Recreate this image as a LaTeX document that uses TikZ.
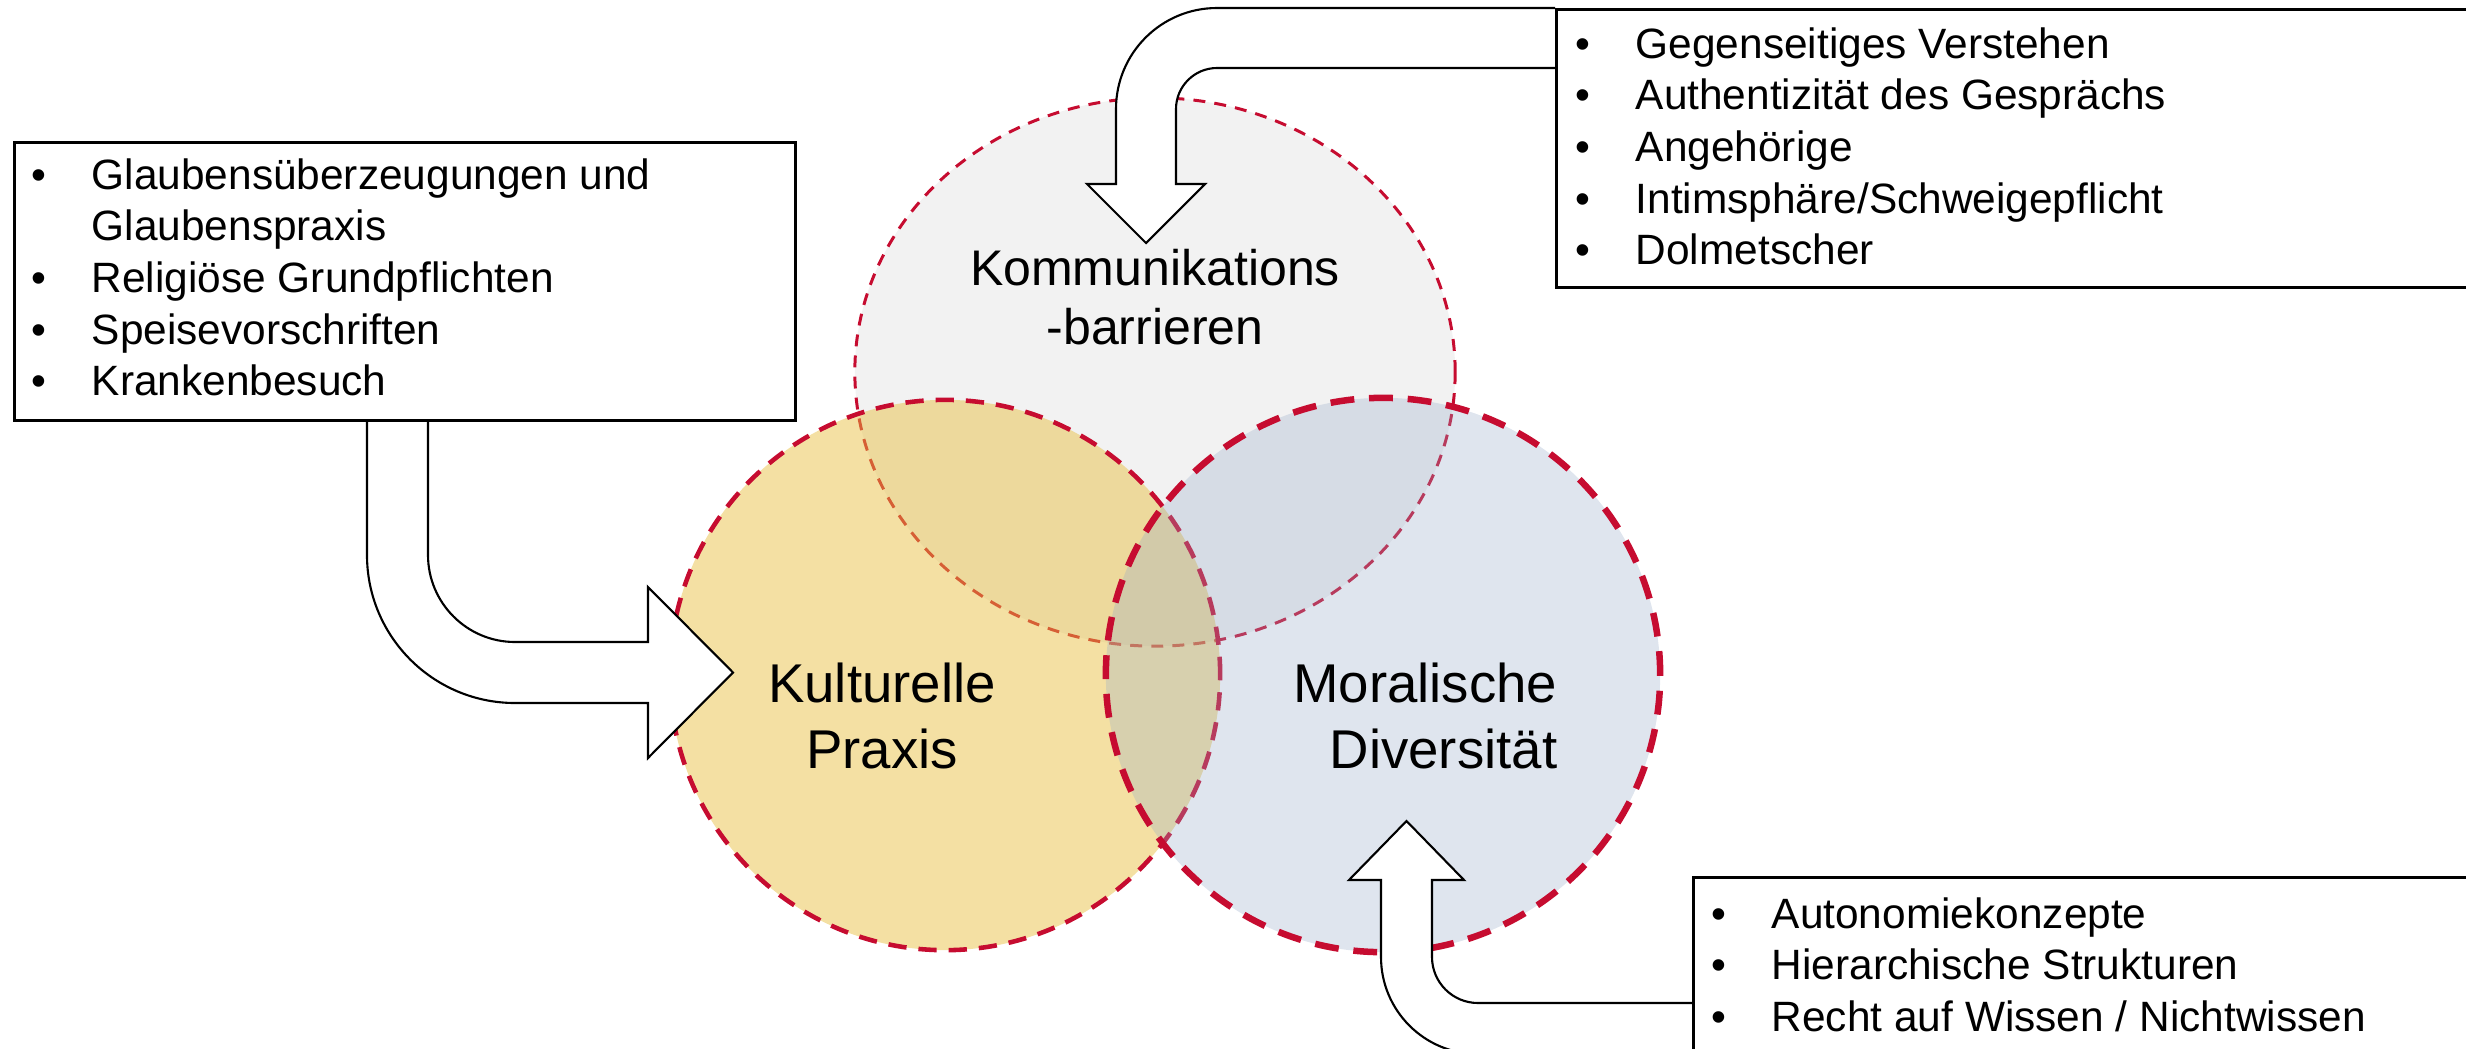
\documentclass[tikz,border=0pt]{standalone}
\usepackage{fontspec}
\setmainfont{Liberation Sans}
\definecolor{vred}{RGB}{198,12,48}
\definecolor{topfill}{RGB}{242,242,242}
\definecolor{goldfill}{RGB}{232,190,60}
\definecolor{bluefill}{RGB}{150,170,200}
\newcommand{\bul}{\makebox[0.6cm][l]{\textbullet}}
\begin{document}
\begin{tikzpicture}[x=0.01cm,y=-0.01cm,
  blockarrow/.style={fill=white,draw=black,line width=0.6pt,line join=miter},
  listbox/.style={draw=black,fill=white,line width=0.75pt,rectangle,inner sep=0pt,anchor=north west},
  listtext/.style={inner sep=0pt,anchor=base west,font=\fontsize{12.06pt}{14.7pt}\selectfont},
  circtext/.style={inner sep=0pt,text=black}]
\useasboundingbox (0,0) rectangle (2466,1048);
\clip (0,0) rectangle (2466,1048);

% circles
\path[fill=topfill,draw=vred,line width=0.85pt,dash pattern=on 3.4pt off 2.6pt]
  (1155,372) ellipse [x radius=3cm,y radius=2.74cm];
\path[fill=goldfill,fill opacity=0.47,draw=vred,line width=1.3pt,dash pattern=on 5.2pt off 3.4pt]
  (945,675) circle [radius=2.75cm];
\path[fill=bluefill,fill opacity=0.3,draw=vred,line width=1.85pt,dash pattern=on 6.8pt off 4.2pt]
  (1383,675) circle [radius=2.77cm];

% circle texts
\node[circtext,anchor=base] (komm) at (1155,285)
  {\parbox[t]{5cm}{\centering\fontsize{14.23pt}{16.8pt}\selectfont Kommunikations\\-barrieren}};
\node[circtext,anchor=base] (kult) at (882,702)
  {\parbox[t]{4cm}{\centering\fontsize{15.53pt}{18.8pt}\selectfont Kulturelle\\Praxis}};
\node[circtext,anchor=base east] (moral) at (1558,702)
  {\parbox[t]{4cm}{\raggedleft\fontsize{15.53pt}{18.8pt}\selectfont Moralische\\Diversität}};

% block arrows
\path[blockarrow] (367,419) -- (367,555) .. controls (367,636.7) and (433.3,703) .. (515,703)
  -- (648,703) -- (648,758) -- (733,672.5) -- (648,587) -- (648,642) -- (515,642)
  .. controls (467,642) and (428,603) .. (428,555) -- (428,419);
\path[blockarrow] (1555,8) -- (1217,8) .. controls (1161.2,8) and (1116,53.2) .. (1116,109)
  -- (1116,184) -- (1087,184) -- (1146,243) -- (1205,184) -- (1176,184) -- (1176,109)
  .. controls (1176,86.4) and (1194.4,68) .. (1217,68) -- (1555,68);
\path[blockarrow] (1692,1003) -- (1478,1003) .. controls (1452.6,1003) and (1432,982.4) .. (1432,957)
  -- (1432,880) -- (1464,880) -- (1406.5,821) -- (1349,880) -- (1381,880) -- (1381,957)
  .. controls (1381,1010.6) and (1424.4,1054) .. (1478,1054) -- (1692,1054);

% boxes
\node[listbox,minimum width=7.81cm,minimum height=2.78cm] (boxL) at (13,141) {};
\node[listbox,minimum width=10cm,minimum height=2.78cm] (boxTR) at (1555,8) {};
\node[listbox,minimum width=10cm,minimum height=2.2cm] (boxBR) at (1692,876) {};

% list texts
\node[listtext] (listL) at (31,189) {\parbox[t]{7.5cm}{\bul Glaubensüberzeugungen und\\
  \hspace*{0.6cm}Glaubenspraxis\\\bul Religiöse Grundpflichten\\\bul Speisevorschriften\\\bul Krankenbesuch}};
\node[listtext] (listTR) at (1575,58) {\parbox[t]{8.5cm}{\bul Gegenseitiges Verstehen\\
  \bul Authentizität des Gesprächs\\\bul Angehörige\\\bul Intimsphäre/Schweigepflicht\\\bul Dolmetscher}};
\node[listtext] (listBR) at (1711,928) {\parbox[t]{7.5cm}{\bul Autonomiekonzepte\\
  \bul Hierarchische Strukturen\\\bul Recht auf Wissen / Nichtwissen}};
\end{tikzpicture}
\end{document}
